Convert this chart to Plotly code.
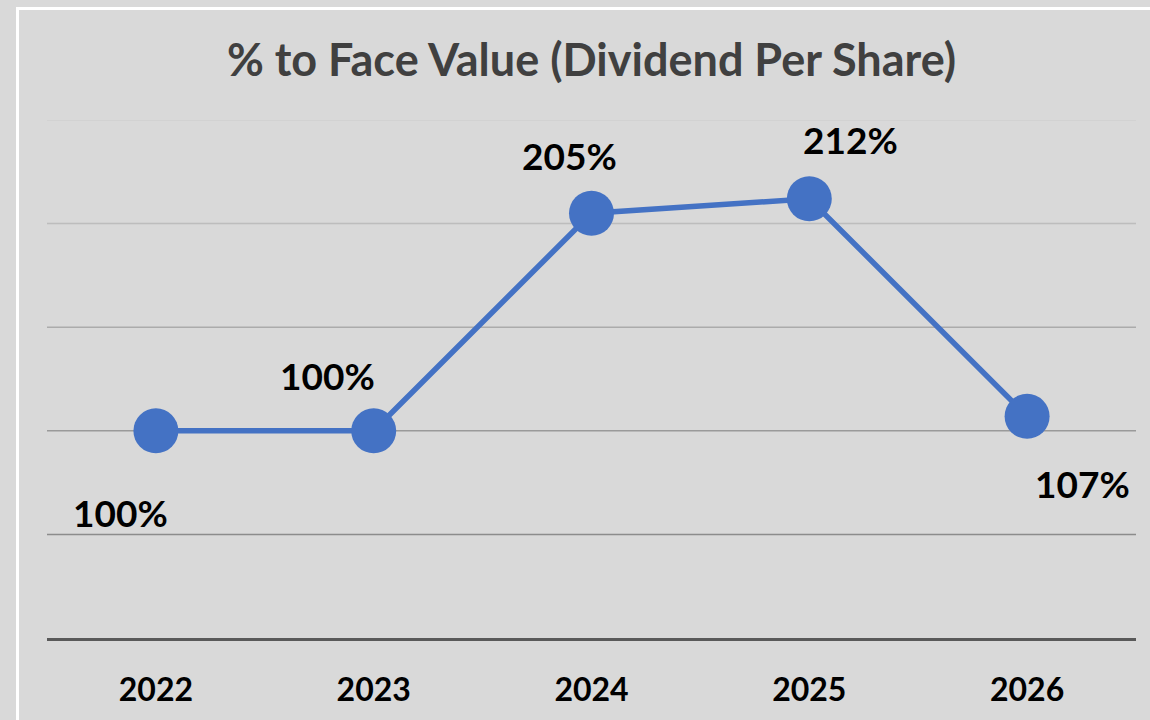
import plotly.graph_objects as go

# chart data
years = ["2022", "2023", "2024", "2025", "2026"]
pct_to_face_value = [100, 100, 205, 212, 107]
labels = [f"{v}%" for v in pct_to_face_value]

# label placement (pixel offsets from each point), Excel-style manual placement
label_dx = [-35, -46, -22, 41, 55]
label_dy = [-82, 55, 58, 59, -67]

grid_values = [50, 100, 150, 200, 250]
grid_colors = ["#8c8c8c", "#9a9a9a", "#ababab", "#bdbdbd", "#cfcfcf"]

BG = "#D9D9D9"
BLUE = "#4472C4"
FONT = "Lato"

fig = go.Figure()

fig.add_trace(
    go.Scatter(
        x=years,
        y=pct_to_face_value,
        mode="lines+markers",
        line={"color": BLUE, "width": 5.5},
        marker={"color": BLUE, "size": 45},
        hoverinfo="skip",
        showlegend=False,
    )
)

# data labels (category axis -> annotations take the category index)
for i, (val, txt, dx, dy) in enumerate(zip(pct_to_face_value, labels, label_dx, label_dy)):
    fig.add_annotation(
        x=i,
        y=val,
        text=f"<b>{txt}</b>",
        showarrow=False,
        xshift=dx,
        yshift=dy,
        font={"family": FONT, "size": 37, "color": "black"},
    )

# gridlines, fading toward the top like the original
for gv, gc in zip(grid_values, grid_colors):
    fig.add_shape(
        type="line",
        xref="paper",
        yref="y",
        x0=0,
        x1=1,
        y0=gv,
        y1=gv,
        line={"color": gc, "width": 1.5},
        layer="below",
    )

# white frame around the chart area (paper units relative to the plot area)
fig.add_shape(
    type="rect",
    xref="paper",
    yref="paper",
    x0=-0.0271,
    x1=1.1,
    y0=1.2153,
    y1=-0.3,
    line={"color": "white", "width": 3},
    layer="below",
)

fig.update_layout(
    width=1150,
    height=720,
    paper_bgcolor=BG,
    plot_bgcolor=BG,
    margin={"l": 47, "r": 14, "t": 120, "b": 82},
    title={
        "text": "<b>% to Face Value (Dividend Per Share)</b>",
        "x": 0.5,
        "xref": "paper",
        "y": 1 - 60 / 720,
        "yref": "container",
        "xanchor": "center",
        "yanchor": "middle",
        "font": {"family": FONT, "size": 45, "color": "#404040"},
    },
    xaxis={
        "type": "category",
        "range": [-0.5, 4.5],
        "showgrid": False,
        "zeroline": False,
        "showline": True,
        "linecolor": "#595959",
        "linewidth": 2.5,
        "ticks": "",
        "ticklabelstandoff": 22,
        "tickfont": {"family": FONT, "size": 32, "color": "black", "weight": "bold"},
        "fixedrange": True,
    },
    yaxis={
        "range": [0, 250],
        "showgrid": False,
        "zeroline": False,
        "showticklabels": False,
        "fixedrange": True,
    },
)

fig.write_html(
    "out.html",
    config={"displayModeBar": False},
    post_script="document.body.style.margin='0';",
)
